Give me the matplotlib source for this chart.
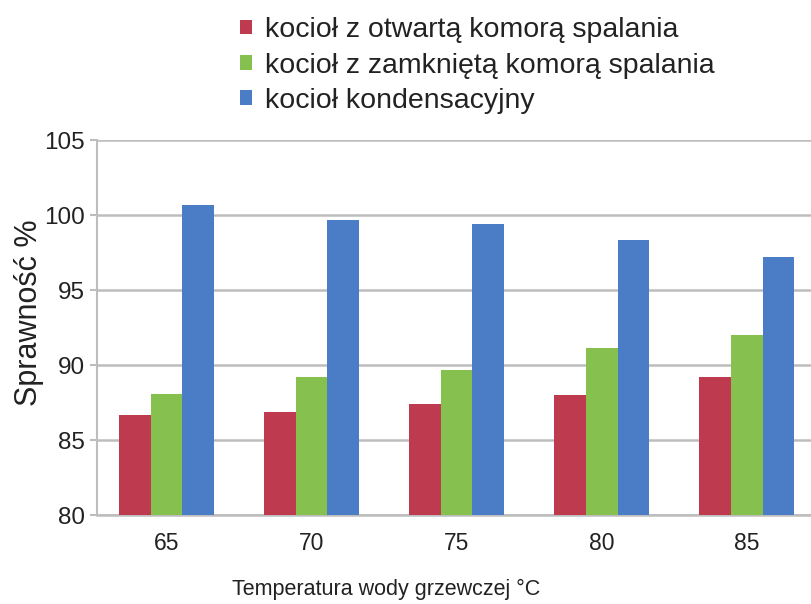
import matplotlib
matplotlib.use("Agg")
import matplotlib.pyplot as plt
import numpy as np

plt.rcParams['font.family'] = ['Liberation Sans', 'DejaVu Sans']

categories = ["65", "70", "75", "80", "85"]
series_names = ["kocioł z otwartą komorą spalania",
                "kocioł z zamkniętą komorą spalania",
                "kocioł kondensacyjny"]
open_chamber = [86.7, 86.9, 87.4, 88.0, 89.2]
closed_chamber = [88.1, 89.2, 89.7, 91.15, 92.0]
condensing = [100.7, 99.7, 99.4, 98.35, 97.2]
colors = ["#BE3B4F", "#86C14F", "#4A7DC6"]
yticks = [80, 85, 90, 95, 100, 105]

fig = plt.figure(figsize=(8.12, 6.04), dpi=100)
ax = fig.add_axes([0.1195, 0.147, 0.8805, 0.621])

x = np.arange(len(categories))
w = 0.218
handles = []
for i, (vals, c, name) in enumerate(zip([open_chamber, closed_chamber, condensing], colors, series_names)):
    h = ax.bar(x + (i - 1) * w, [v - 80 for v in vals], w, bottom=80, color=c, label=name, zorder=3)
    handles.append(h)

ax.set_ylim(80, 105)
ax.set_xlim(-0.48, 4.45)
ax.set_yticks(yticks)
ax.set_yticklabels([str(t) for t in yticks], fontsize=17.5, color="#222222")
ax.set_xticks(x)
ax.set_xticklabels(categories, fontsize=16.5, color="#222222")
ax.tick_params(axis='x', length=0, pad=12)
ax.tick_params(axis='y', length=5, color="#bdbdbd", width=1.5, pad=4)
ax.grid(axis='y', color="#bdbdbd", linewidth=1.8, zorder=0)
for s in ["top", "right"]:
    ax.spines[s].set_visible(False)
ax.spines["left"].set_color("#bdbdbd")
ax.spines["left"].set_linewidth(1.5)
ax.spines["bottom"].set_color("#bdbdbd")
ax.spines["bottom"].set_linewidth(1.8)

ax.set_ylabel("Sprawność %", fontsize=22, color="#222222")
ax.yaxis.set_label_coords(-0.074, 0.54)
ax.set_xlabel("Temperatura wody grzewczej °C", fontsize=15.5, color="#222222")
ax.xaxis.set_label_coords(0.404, -0.17)

leg = fig.legend(handles=handles, labels=series_names, loc="upper left",
                 bbox_to_anchor=(0.282, 0.99), frameon=False, fontsize=20.5,
                 handlelength=0.4, handleheight=0.4, handletextpad=0.45,
                 labelspacing=0.32, borderaxespad=0)
for t in leg.get_texts():
    t.set_color("#222222")

fig.savefig("out.png", dpi=100)
